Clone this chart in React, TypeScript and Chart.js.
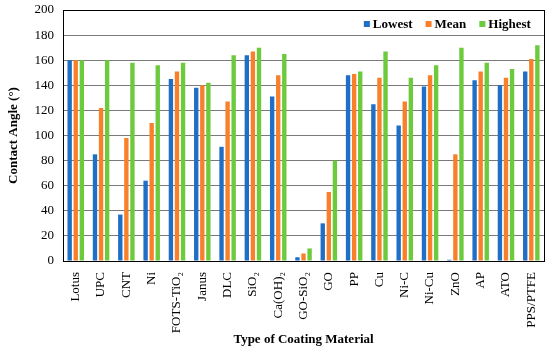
import React, { useEffect, useRef } from "react";
import { Chart, registerables } from "chart.js";
Chart.register(...registerables);

const categories = ["Lotus", "UPC", "CNT", "Ni", "FOTS-TiO₂", "Janus", "DLC", "SiO₂", "Ca(OH)₂", "GO-SiO₂", "GO", "PP", "Cu", "Ni-C", "Ni-Cu", "ZnO", "AP", "ATO", "PPS/PTFE"];
const lowest = [160, 85, 37, 64, 145, 138, 91, 164, 131, 3, 30, 148, 125, 108, 139, 1, 144, 140, 151];
const mean = [160, 122, 98, 110, 151, 140, 127, 167, 148, 6, 55, 149, 146, 127, 148, 85, 151, 146, 161];
const highest = [160, 160, 158, 156, 158, 142, 164, 170, 165, 10, 80, 151, 167, 146, 156, 170, 158, 153, 172];
const yTicks = [0, 20, 40, 60, 80, 100, 120, 140, 160, 180, 200];

const FONT = "'Liberation Serif', 'Times New Roman', serif";

export default function App() {
  const ref = useRef<HTMLCanvasElement>(null);
  useEffect(() => {
    document.body.style.margin = "0";
    const borderPlugin = {
      id: "plotBorder",
      afterDraw(chart: any) {
        const { ctx, chartArea } = chart;
        ctx.save();
        ctx.strokeStyle = "#000";
        ctx.lineWidth = 1;
        ctx.strokeRect(Math.round(chartArea.left) + 0.5, Math.round(chartArea.top) + 0.5, Math.round(chartArea.right - chartArea.left), Math.round(chartArea.bottom - chartArea.top));
        // legend inside the plot area, top right
        const ds = chart.data.datasets;
        ctx.font = `bold 13px ${FONT}`;
        ctx.textBaseline = "middle";
        ctx.textAlign = "left";
        const y = chartArea.top + 14;
        let x = chartArea.right - 13;
        const widths = ds.map((d: any) => ctx.measureText(d.label).width);
        let total = 0;
        widths.forEach((w: number) => (total += 6 + 3 + w));
        total += 13 * (ds.length - 1);
        x = x - total;
        ds.forEach((d: any, i: number) => {
          ctx.fillStyle = d.backgroundColor;
          ctx.fillRect(x, y - 3, 6, 6);
          ctx.fillStyle = "#000";
          ctx.fillText(d.label, x + 9, y + 1);
          x += 9 + widths[i] + 13;
        });
        ctx.restore();
      },
    };
    const chart = new Chart(ref.current!, {
      type: "bar",
      data: {
        labels: categories,
        datasets: [
          { label: "Lowest", data: lowest, backgroundColor: "#1F6FC6" },
          { label: "Mean", data: mean, backgroundColor: "#F9802A" },
          { label: "Highest", data: highest, backgroundColor: "#6CCB3C" },
        ],
      },
      options: {
        animation: false,
        responsive: false,
        layout: { padding: { top: 10, right: 4, left: 4, bottom: 2 } },
        datasets: { bar: { categoryPercentage: 0.72, barPercentage: 0.72 } },
        plugins: {
          legend: { display: false },
          tooltip: { enabled: false },
        },
        scales: {
          x: {
            grid: { display: false },
            border: { color: "#000" },
            afterFit: (s: any) => { s.height = 87; s.paddingTop = 0; },
            ticks: {
              font: { family: FONT, size: 13 },
              color: "#000",
              maxRotation: 90,
              minRotation: 90,
              autoSkip: false,
              padding: 3,
            },
            title: { display: true, text: "Type of Coating Material", font: { family: FONT, size: 13, weight: "bold" }, color: "#000", padding: { top: 4, bottom: 1 } },
          },
          y: {
            min: 0,
            max: 200,
            afterFit: (s: any) => { s.paddingTop = 0; s.paddingBottom = 0; },
            afterBuildTicks: (axis: any) => { axis.ticks = yTicks.map((v) => ({ value: v })); },
            grid: { color: "#7a7a7a", drawTicks: false },
            border: { color: "#000" },
            ticks: { font: { family: FONT, size: 13 }, color: "#000", padding: 9 },
            title: { display: true, text: "Contact Angle (°)", font: { family: FONT, size: 13, weight: "bold" }, color: "#000", padding: { top: 2, bottom: 4 } },
          },
        },
      },
      plugins: [borderPlugin],
    });
    return () => chart.destroy();
  }, []);
  return <canvas ref={ref} width={550} height={350} style={{ display: "block" }} />;
}
